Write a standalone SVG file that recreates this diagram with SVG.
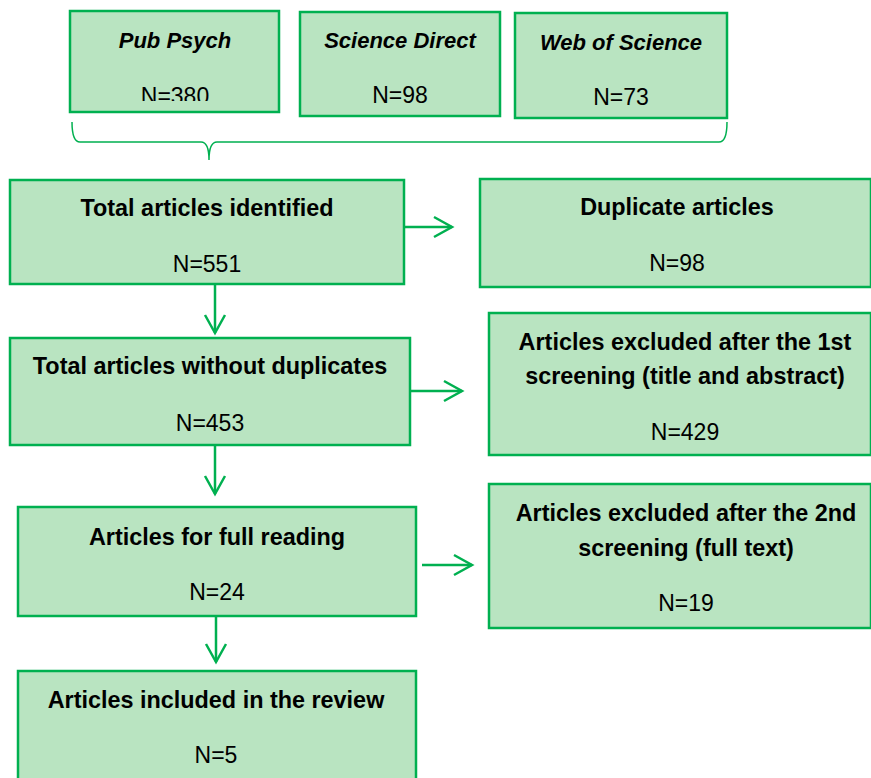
<svg xmlns="http://www.w3.org/2000/svg" width="871" height="778" viewBox="0 0 871 778">
<style>
.box{fill:#b9e4c1;stroke:#00b050;stroke-width:2.5}
.t{font-family:"Liberation Sans",Arial,sans-serif;font-weight:bold;font-size:23.4px;fill:#000;text-anchor:middle}
.ti{font-family:"Liberation Sans",Arial,sans-serif;font-weight:bold;font-style:italic;font-size:22px;fill:#000;text-anchor:middle}
.n{font-family:"Liberation Sans",Arial,sans-serif;font-size:23px;fill:#000;text-anchor:middle}
.c{fill:none;stroke:#00b050;stroke-width:2.5}
.br{fill:none;stroke:#00b050;stroke-width:1.5}
</style>
<defs>
<clipPath id="clipPP"><rect x="70" y="11" width="209" height="90"/></clipPath>
<marker id="ah" markerWidth="22" markerHeight="24" refX="19" refY="12" orient="auto" markerUnits="userSpaceOnUse">
<path d="M1,2 L19,12 L1,22" fill="none" stroke="#00b050" stroke-width="2.5"/>
</marker>
</defs>
<rect width="871" height="778" fill="#fff"/>
<g id="pubpsych">
<rect class="box" x="70" y="11" width="209" height="101"/>
<text class="ti" x="175" y="48">Pub Psych</text>
<text class="n" x="175" y="104" clip-path="url(#clipPP)">N=380</text>
</g>
<g id="sciencedirect">
<rect class="box" x="300" y="12" width="200" height="104"/>
<text class="ti" x="400" y="48">Science Direct</text>
<text class="n" x="400" y="103">N=98</text>
</g>
<g id="webofscience">
<rect class="box" x="515" y="13" width="212" height="105"/>
<text class="ti" x="621" y="50">Web of Science</text>
<text class="n" x="621" y="105">N=73</text>
</g>
<g id="identified">
<rect class="box" x="10" y="180" width="394" height="104"/>
<text class="t" x="207" y="216">Total articles identified</text>
<text class="n" x="207" y="272">N=551</text>
</g>
<g id="duplicates">
<rect class="box" x="480" y="179" width="391" height="108"/>
<text class="t" x="677" y="215">Duplicate articles</text>
<text class="n" x="677" y="271">N=98</text>
</g>
<g id="withoutdup">
<rect class="box" x="10" y="338" width="400" height="107"/>
<text class="t" x="210" y="374">Total articles without duplicates</text>
<text class="n" x="210" y="431">N=453</text>
</g>
<g id="excluded1">
<rect class="box" x="489" y="313" width="382" height="142"/>
<text class="t" x="685" y="350">Articles excluded after the 1st</text>
<text class="t" x="685" y="384">screening (title and abstract)</text>
<text class="n" x="685" y="440">N=429</text>
</g>
<g id="fullreading">
<rect class="box" x="18" y="507" width="398" height="109"/>
<text class="t" x="217" y="545">Articles for full reading</text>
<text class="n" x="217" y="600">N=24</text>
</g>
<g id="excluded2">
<rect class="box" x="489" y="484" width="382" height="144"/>
<text class="t" x="686" y="521">Articles excluded after the 2nd</text>
<text class="t" x="686" y="556">screening (full text)</text>
<text class="n" x="686" y="611">N=19</text>
</g>
<g id="included">
<rect class="box" x="18" y="671" width="398" height="120"/>
<text class="t" x="216" y="708">Articles included in the review</text>
<text class="n" x="216" y="763">N=5</text>
</g>
<g id="connectors">
<path class="br" d="M72,122 Q72,142 80,142 L201,142 Q209,142 209,160 Q209,142 217,142 L719,142 Q727,142 727,122"/>
<line class="c" x1="404" y1="227" x2="452" y2="227" marker-end="url(#ah)"/>
<line class="c" x1="215" y1="284" x2="215" y2="333" marker-end="url(#ah)"/>
<line class="c" x1="410" y1="391" x2="462" y2="391" marker-end="url(#ah)"/>
<line class="c" x1="215" y1="446" x2="215" y2="494" marker-end="url(#ah)"/>
<line class="c" x1="422" y1="565" x2="472" y2="565" marker-end="url(#ah)"/>
<line class="c" x1="216" y1="617" x2="216" y2="662" marker-end="url(#ah)"/>
</g>
</svg>
